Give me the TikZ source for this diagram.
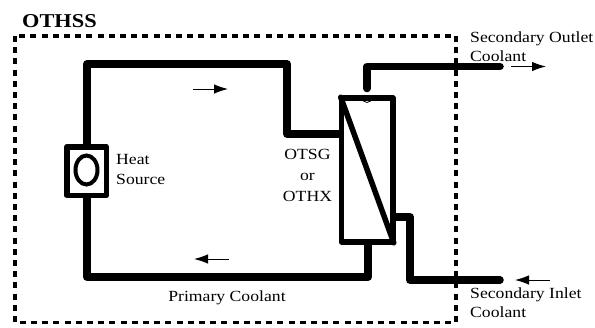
\documentclass[tikz,border=0pt]{standalone}
\usepackage{fontspec}
\setmainfont[FakeStretch=1.14]{Liberation Serif}
\usetikzlibrary{arrows.meta,shapes.geometric,calc}
\tikzset{
  pipe/.style={line width=7.5pt,line join=round,line cap=round},
  boundary/.style={line width=3.6pt,dash pattern=on 6pt off 5.2pt},
  flow/.style={line width=1pt,-{Latex[length=14pt,width=9.5pt]}},
  lab/.style={inner sep=0pt,font=\fontsize{15.5}{19.5}\selectfont,align=left},
  hxbox/.style={draw,line width=5.5pt,line join=round,minimum width=51.5pt,minimum height=144pt,inner sep=0pt},
  srcbox/.style={draw,line width=5.5pt,line join=round,minimum width=39.5pt,minimum height=48.5pt,inner sep=0pt},
}
\begin{document}
\begin{tikzpicture}[x=1pt,y=-1pt]
\useasboundingbox (0,0) rectangle (595,327);
\draw[boundary] (15,36) rectangle (456,322.5);
\node[hxbox] (hx) at (367.25,170) {};
\node[srcbox] (src) at (86.5,171) {};
\node[draw,line width=4pt,ellipse,minimum width=22pt,minimum height=29pt,inner sep=0pt] (core) at (86.5,170) {};
% primary loop
\coordinate (ptop) at (87,64);
\coordinate (ptr) at (287,64);
\coordinate (pmid) at (287,134);
\coordinate (pbl) at (87,277);
\coordinate (pbr) at (368,277);
\draw[pipe] (src.north -| ptop) -- (ptop) -- (ptr) -- (pmid) -- (pmid -| hx.west);
\draw[pipe] (src.south -| pbl) -- (pbl) -- (pbr) -- (pbr |- hx.south);
% secondary outlet
\coordinate (oc) at (367,66.5);
\coordinate (oe) at (500,66.5);
\coordinate (os) at (367,88.5);
\draw[pipe] (os) -- (oc) -- (oe);
\draw[line width=.8pt] (361.5,97) arc[start angle=180,end angle=0,radius=5.5];
% secondary inlet
\coordinate (ia) at (410,217);
\coordinate (ib) at (410,280);
\coordinate (ie) at (500,280);
\draw[pipe] (ia -| hx.east) -- (ia) -- (ib) -- (ie);
% diagonal
\draw[line width=5.5pt,line cap=round] ($(hx.north west)+(2,2)$) -- ($(hx.south east)+(-2,-2)$);
% flow arrows
\coordinate (a1) at (193,89); \coordinate (a2) at (228,89);
\coordinate (b1) at (229,259); \coordinate (b2) at (194,259);
\coordinate (c1) at (511,66.5); \coordinate (c2) at (546,66.5);
\coordinate (d1) at (550,280); \coordinate (d2) at (515,280);
\draw[flow] (a1) -- (a2);
\draw[flow] (b1) -- (b2);
\draw[flow] (c1) -- (c2);
\draw[flow] (d1) -- (d2);
% labels
\node[inner sep=0pt,anchor=west,font=\bfseries\fontsize{19.6}{22}\selectfont] (t) at (22,21) {OTHSS};
\node[lab,anchor=west] (l1) at (116,169.5) {Heat\\Source};
\node[lab,align=center,font=\fontsize{15.5}{21}\selectfont] (l2) at (307.5,175) {OTSG\\or\\OTHX};
\node[lab] (l3) at (227,298) {Primary Coolant};
\node[lab,anchor=west] (l4) at (470,46.5) {Secondary Outlet\\Coolant};
\node[lab,anchor=west] (l5) at (470,302.5) {Secondary Inlet\\Coolant};
\end{tikzpicture}
\end{document}
